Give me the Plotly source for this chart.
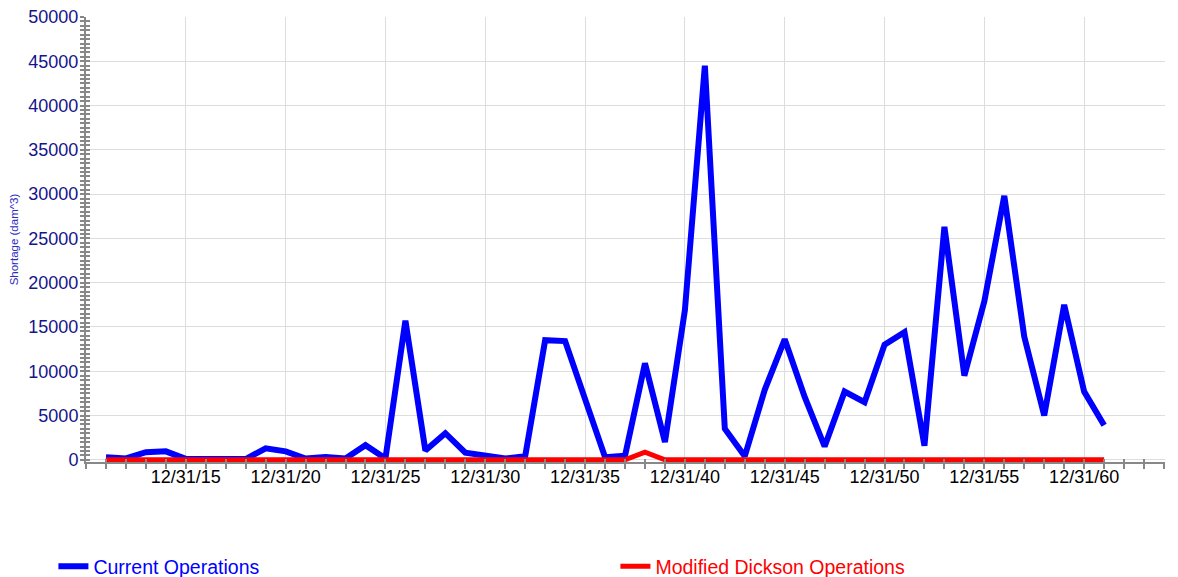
import plotly.graph_objects as go

years = list(range(11, 62))
current_ops = [300, 150, 850, 950, 100, 100, 100, 80, 1300, 950,
               150, 300, 150, 1650, 150, 15700, 1050, 3000, 800, 500,
               150, 400, 13500, 13400, 7100, 300, 450, 10900, 2000, 16900,
               44500, 3500, 400, 7900, 13600, 7100, 1500, 7700, 6500, 13000,
               14400, 1600, 26300, 9500, 17900, 29800, 13900, 5000, 17500, 7700,
               3900]
modified_ops = [0] * 27 + [850] + [0] * 23
tick_years = [15, 20, 25, 30, 35, 40, 45, 50, 55, 60]
tick_labels = ["12/31/%02d" % y for y in tick_years]

FONT = "Liberation Sans, Arial, sans-serif"
GREY = "#888888"

fig = go.Figure()
fig.add_trace(go.Scatter(
    x=years, y=current_ops, mode="lines",
    name="<span style='color:#0000ff'>Current Operations</span>",
    line=dict(color="#0000ff", width=6), xaxis="x", yaxis="y"))
fig.add_trace(go.Scatter(
    x=years, y=modified_ops, mode="lines",
    name="<span style='color:#ff0000'>Modified Dickson Operations</span>",
    line=dict(color="#ff0000", width=5), xaxis="x", yaxis="y"))

yr = [-250, 50000]
xr = [10, 64.05]

# page body has an 8px margin, so the figure is 8px smaller and margins shifted
fig.update_layout(
    width=1170, height=569,
    paper_bgcolor="white", plot_bgcolor="white",
    margin=dict(l=78, r=13, t=9, b=115, autoexpand=False),
    font=dict(family=FONT),
    showlegend=True,
    legend=dict(orientation="h", x=-0.0302, xanchor="left", y=-0.235, yanchor="middle",
                font=dict(size=19.5, family=FONT), entrywidthmode="pixels", entrywidth=517,
                itemwidth=30, bgcolor="rgba(0,0,0,0)"),
    xaxis=dict(range=xr, tickmode="array", tickvals=tick_years, ticktext=tick_labels,
               showgrid=True, gridcolor="#dddddd", gridwidth=1,
               showline=True, linecolor=GREY, linewidth=2,
               ticks="outside", ticklen=5, tickwidth=2, tickcolor=GREY,
               minor=dict(tickmode="linear", tick0=0, dtick=1, ticks="outside",
                          ticklen=5, tickwidth=2, tickcolor=GREY, showgrid=False),
               tickfont=dict(size=18, color="#000000", family=FONT),
               ticklabeloverflow="allow", ticklabelstandoff=-8,
               zeroline=False, layer="below traces", automargin=False),
    yaxis=dict(range=yr, tickmode="linear", tick0=0, dtick=5000, tickformat="d",
               showgrid=True, gridcolor="#dddddd", gridwidth=1,
               showline=True, linecolor=GREY, linewidth=2,
               ticks="outside", ticklen=4, tickwidth=2, tickcolor=GREY,
               minor=dict(tickmode="linear", tick0=0, dtick=500, ticks="outside",
                          ticklen=4, tickwidth=2, tickcolor=GREY, showgrid=False),
               tickfont=dict(size=18, color="#15158a", family=FONT),
               ticklabeloverflow="allow", ticklabelstandoff=-2,
               title=dict(text="Shortage (dam^3)", font=dict(size=11.5, color="#2b2bc0", family=FONT),
                          standoff=11),
               zeroline=False, layer="below traces", automargin=False),
    xaxis2=dict(range=xr, overlaying="x", anchor="y", side="bottom",
                tickmode="array", tickvals=tick_years, showticklabels=False,
                ticks="inside", ticklen=3, tickwidth=2, tickcolor=GREY,
                minor=dict(tickmode="linear", tick0=0, dtick=1, ticks="inside",
                           ticklen=3, tickwidth=2, tickcolor=GREY, showgrid=False),
                showgrid=False, zeroline=False, showline=False),
    yaxis2=dict(range=yr, overlaying="y", anchor="x", side="left",
                tickmode="linear", tick0=0, dtick=5000, showticklabels=False,
                ticks="inside", ticklen=4, tickwidth=2, tickcolor=GREY,
                minor=dict(tickmode="linear", tick0=0, dtick=500, ticks="inside",
                           ticklen=4, tickwidth=2, tickcolor=GREY, showgrid=False),
                showgrid=False, zeroline=False, showline=False),
)
# invisible trace to activate the overlay axes
fig.add_trace(go.Scatter(x=[years[0]], y=[0], xaxis="x2", yaxis="y2", mode="markers",
                         marker=dict(opacity=0), showlegend=False, hoverinfo="skip"))

fig.write_html("out.html")
